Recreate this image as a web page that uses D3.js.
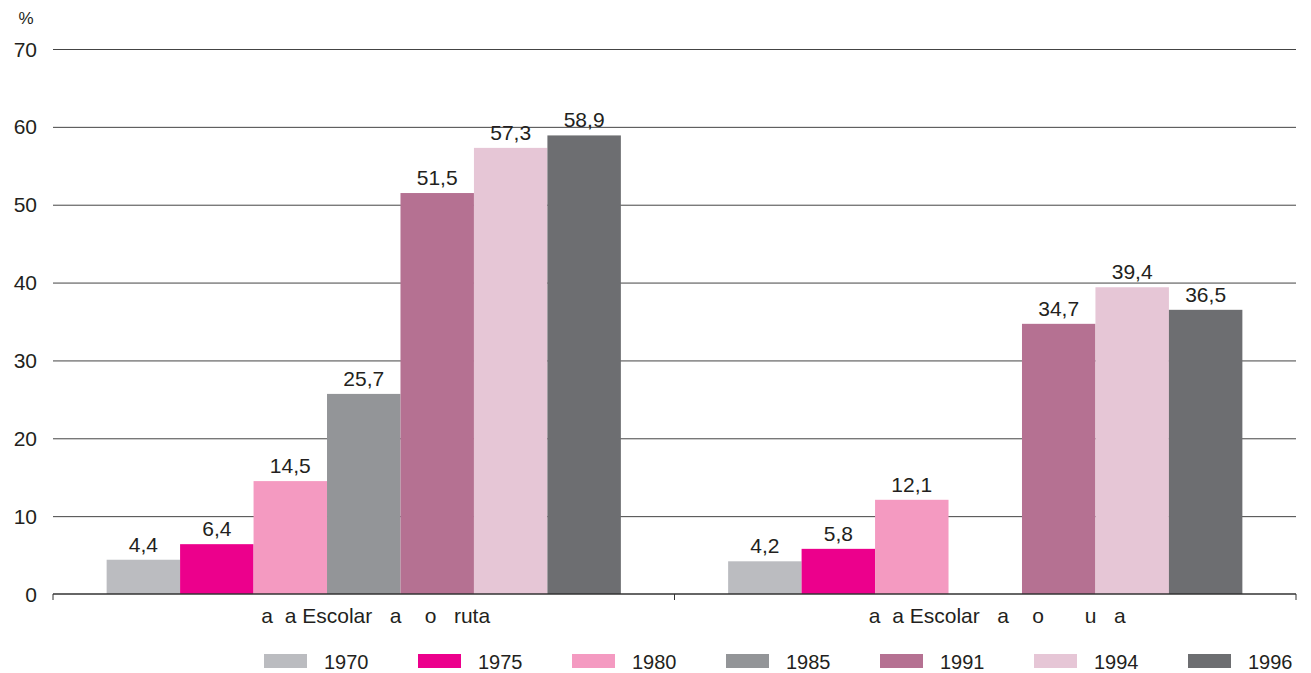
<!DOCTYPE html>
<html>
<head>
<meta charset="utf-8">
<script src="https://cdn.jsdelivr.net/npm/d3@7"></script>
<style>
  html, body { margin: 0; padding: 0; background: #fff; }
  svg { display: block; font-family: "Liberation Sans", Arial, sans-serif; }
  text { white-space: pre; }
</style>
</head>
<body>
<svg id="chart" width="1311" height="673"></svg>
<script>
// Indicator groups (labels as printed)
const categories = ["a  a Escolar   a    o   ruta", "a  a Escolar   a    o       u   a"];
const years = ["1970", "1975", "1980", "1985", "1991", "1994", "1996"];
const colors = ["#bbbcc0", "#ec008c", "#f49ac1", "#939598", "#b57192", "#e6c6d6", "#6d6e71"];
// Values per year, one entry per group (null = no data)
const values1970 = [4.4, 4.2];
const values1975 = [6.4, 5.8];
const values1980 = [14.5, 12.1];
const values1985 = [25.7, null];
const values1991 = [51.5, 34.7];
const values1994 = [57.3, 39.4];
const values1996 = [58.9, 36.5];
const yTicks = [0, 10, 20, 30, 40, 50, 60, 70];

const series = [values1970, values1975, values1980, values1985, values1991, values1994, values1996];

const svg = d3.select("#chart");
const margin = { left: 53, right: 15, top: 49, bottom: 79 };
const W = 1311, H = 673;
const ink = "#231f20";

const x0 = d3.scaleBand().domain(d3.range(categories.length)).range([margin.left, W - margin.right]).padding(0);
const x1 = d3.scaleBand().domain(d3.range(years.length)).range([0, x0.bandwidth()]).paddingInner(0).paddingOuter(0.73);
const y = d3.scaleLinear().domain([0, 70]).range([H - margin.bottom, margin.top]);

// Gridlines
svg.append("g").selectAll("line").data(yTicks.filter(t => t > 0)).join("line")
  .attr("x1", margin.left).attr("x2", W - margin.right)
  .attr("y1", d => y(d) + 0.5).attr("y2", d => y(d) + 0.5)
  .attr("stroke", "#444").attr("stroke-width", 1);

// Y tick labels
svg.append("g").selectAll("text").data(yTicks).join("text")
  .attr("x", 37).attr("y", d => y(d)).attr("dy", "0.36em")
  .attr("text-anchor", "end").attr("font-size", 21).attr("fill", ink)
  .text(d => d);

svg.append("text").attr("x", 26).attr("y", 24).attr("text-anchor", "middle")
  .attr("font-size", 17).attr("fill", ink).text("%");

// Bars and value labels
const groups = svg.append("g").selectAll("g").data(categories).join("g")
  .attr("transform", (d, i) => `translate(${x0(i)},0)`);

groups.each(function (c, gi) {
  const g = d3.select(this);
  const data = series.map((s, si) => ({ si, v: s[gi] })).filter(d => d.v !== null);
  g.selectAll("rect").data(data).join("rect")
    .attr("x", d => x1(d.si)).attr("width", x1.bandwidth())
    .attr("y", d => y(d.v)).attr("height", d => y(0) - y(d.v))
    .attr("fill", d => colors[d.si]);
  g.selectAll("text.val").data(data).join("text").attr("class", "val")
    .attr("x", d => x1(d.si) + x1.bandwidth() / 2).attr("y", d => y(d.v) - 8)
    .attr("text-anchor", "middle").attr("font-size", 21).attr("fill", ink)
    .text(d => d3.format(".1f")(d.v).replace(".", ","));
});

// Baseline and ticks
svg.append("line").attr("x1", margin.left).attr("x2", W - margin.right)
  .attr("y1", y(0)).attr("y2", y(0)).attr("stroke", "#333").attr("stroke-width", 1.5);
svg.append("g").selectAll("line").data(d3.range(categories.length + 1)).join("line")
  .attr("x1", i => margin.left + i * x0.bandwidth()).attr("x2", i => margin.left + i * x0.bandwidth())
  .attr("y1", y(0)).attr("y2", y(0) + 6).attr("stroke", "#333").attr("stroke-width", 1);

// Category labels
svg.append("g").selectAll("text").data(categories).join("text")
  .attr("x", (d, i) => x0(i) + x0.bandwidth() / 2 + 12).attr("y", y(0) + 29)
  .attr("text-anchor", "middle").attr("font-size", 21).attr("fill", ink)
  .attr("xml:space", "preserve")
  .text(d => d);

// Legend
const legend = svg.append("g").selectAll("g").data(years).join("g")
  .attr("transform", (d, i) => `translate(${264 + i * 154},654)`);
legend.append("rect").attr("width", 43).attr("height", 14).attr("fill", (d, i) => colors[i]);
legend.append("text").attr("x", 60).attr("y", 14.5).attr("font-size", 20).attr("fill", ink).text(d => d);
</script>
</body>
</html>
